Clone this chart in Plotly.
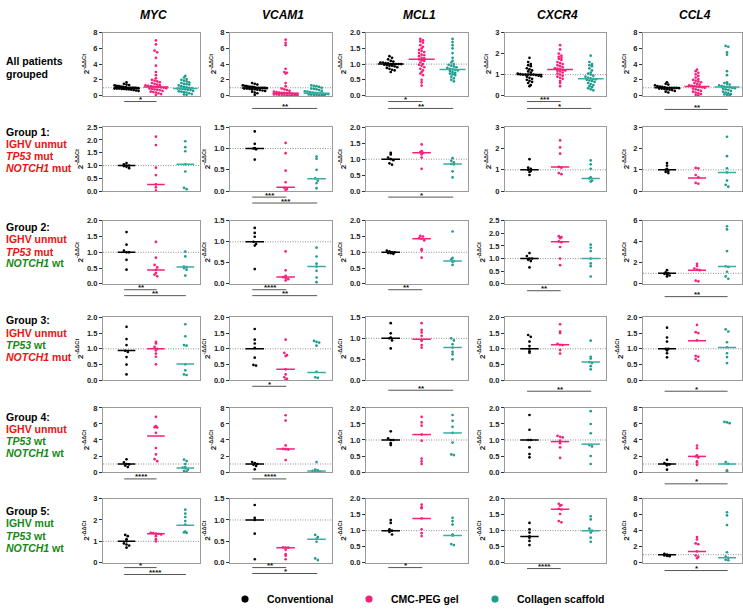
import numpy as np
import plotly.graph_objects as go

W, H = 743, 612

GENES = ["MYC", "VCAM1", "MCL1", "CXCR4", "CCL4"]
GROUPS = ["Conventional", "CMC-PEG gel", "Collagen scaffold"]
COLORS = ["#000000", "#F5217B", "#1E9C8C"]
MED_COLORS = ["#000000", "#F5217B", "#3AADA3"]

# ---------------- data: All patients grouped ----------------
ALL_MYC = dict(conv=[1.7, 1.5, 1.4, 1.35, 1.3, 1.25, 1.2, 1.2, 1.15, 1.1, 1.1, 1.05, 1.05, 1.0, 1.0, 1.0, 1.0, 1.0, 1.0, 0.98, 0.95, 0.95, 0.9, 0.9, 0.9, 0.85, 0.85, 0.8, 0.8, 0.75, 0.7, 0.65, 0.6],
               cmc=[7.0, 6.5, 5.7, 5.5, 4.8, 3.8, 3.0, 2.6, 2.2, 2.0, 1.9, 1.8, 1.7, 1.6, 1.5, 1.4, 1.35, 1.3, 1.25, 1.2, 1.15, 1.1, 1.1, 1.05, 1.0, 0.95, 0.9, 0.85, 0.8, 0.75, 0.7, 0.6, 0.5, 0.45, 0.4, 0.3, 0.2, 0.1],
               col=[2.5, 2.3, 2.1, 2.0, 1.9, 1.8, 1.7, 1.6, 1.5, 1.45, 1.4, 1.3, 1.2, 1.1, 1.05, 1.0, 0.95, 0.9, 0.9, 0.85, 0.8, 0.75, 0.7, 0.6, 0.55, 0.5, 0.45, 0.4, 0.3, 0.2, 0.15, 0.1],
               med=[1.0, 1.1, 0.9])
ALL_VCAM1 = dict(conv=[1.6, 1.5, 1.4, 1.3, 1.25, 1.2, 1.15, 1.1, 1.1, 1.05, 1.0, 1.0, 1.0, 1.0, 0.98, 0.95, 0.9, 0.9, 0.85, 0.8, 0.8, 0.75, 0.7, 0.65, 0.6, 0.5, 0.4, 0.3, 0.1],
                 cmc=[7.1, 6.7, 6.4, 3.4, 3.0, 2.9, 2.8, 1.6, 1.2, 0.9, 0.8, 0.7, 0.6, 0.5, 0.45, 0.4, 0.35, 0.35, 0.3, 0.3, 0.25, 0.2, 0.2, 0.15, 0.15, 0.1, 0.1, 0.08, 0.05, 0.05, 0.03, 0.02, 0.02],
                 col=[1.3, 1.25, 1.2, 1.1, 1.0, 0.9, 0.85, 0.8, 0.7, 0.6, 0.55, 0.5, 0.45, 0.4, 0.35, 0.3, 0.3, 0.25, 0.2, 0.2, 0.15, 0.12, 0.1, 0.08, 0.05, 0.03, 0.02],
                 med=[0.96, 0.3, 0.3])
ALL_MCL1 = dict(conv=[1.25, 1.2, 1.15, 1.1, 1.08, 1.05, 1.05, 1.03, 1.02, 1.0, 1.0, 1.0, 1.0, 1.0, 0.98, 0.97, 0.95, 0.95, 0.93, 0.9, 0.88, 0.85, 0.82, 0.8, 0.75],
                cmc=[1.8, 1.75, 1.72, 1.68, 1.6, 1.55, 1.5, 1.45, 1.42, 1.38, 1.35, 1.3, 1.28, 1.25, 1.2, 1.18, 1.15, 1.12, 1.1, 1.05, 1.0, 0.98, 0.95, 0.9, 0.85, 0.8, 0.75, 0.7, 0.65, 0.5, 0.42, 0.32],
                col=[1.8, 1.7, 1.6, 1.5, 1.35, 1.2, 1.1, 1.05, 1.0, 0.98, 0.95, 0.92, 0.9, 0.88, 0.85, 0.83, 0.82, 0.8, 0.78, 0.75, 0.72, 0.7, 0.68, 0.65, 0.6, 0.55, 0.5, 0.45],
                med=[1.0, 1.15, 0.83])
ALL_CXCR4 = dict(conv=[1.8, 1.6, 1.5, 1.45, 1.4, 1.3, 1.25, 1.2, 1.15, 1.1, 1.05, 1.02, 1.0, 1.0, 1.0, 1.0, 1.0, 0.98, 0.95, 0.92, 0.9, 0.85, 0.8, 0.75, 0.7, 0.65, 0.6, 0.5, 0.45],
                 cmc=[2.4, 2.2, 2.0, 1.9, 1.85, 1.8, 1.75, 1.7, 1.6, 1.55, 1.5, 1.45, 1.4, 1.35, 1.3, 1.28, 1.25, 1.22, 1.2, 1.18, 1.15, 1.1, 1.05, 1.0, 0.95, 0.9, 0.85, 0.8, 0.7, 0.6, 0.45],
                 col=[1.9, 1.6, 1.5, 1.45, 1.4, 1.3, 1.2, 1.1, 1.05, 1.0, 0.95, 0.9, 0.85, 0.82, 0.8, 0.78, 0.75, 0.72, 0.7, 0.65, 0.6, 0.55, 0.5, 0.45, 0.4, 0.35, 0.3, 0.25],
                 med=[1.0, 1.24, 0.8])
ALL_CCL4 = dict(conv=[1.7, 1.5, 1.4, 1.3, 1.2, 1.15, 1.1, 1.05, 1.0, 1.0, 1.0, 1.0, 0.98, 0.95, 0.9, 0.9, 0.85, 0.8, 0.75, 0.7, 0.6, 0.5, 0.4],
                cmc=[3.3, 3.1, 2.9, 2.7, 2.5, 2.3, 2.1, 2.0, 1.9, 1.8, 1.7, 1.6, 1.5, 1.4, 1.3, 1.25, 1.2, 1.15, 1.1, 1.05, 1.0, 0.9, 0.8, 0.7, 0.6, 0.5, 0.4, 0.3, 0.2, 0.1, 0.05],
                col=[6.3, 6.2, 5.5, 5.2, 3.1, 2.6, 1.7, 1.6, 1.5, 1.4, 1.3, 1.2, 1.15, 1.1, 1.05, 1.0, 0.95, 0.9, 0.8, 0.7, 0.6, 0.5, 0.4, 0.3, 0.2, 0.15, 0.1, 0.05],
                med=[1.0, 1.17, 1.1])

# ---------------- Group 1 ----------------
G1_MYC = dict(conv=[1.1, 1.05, 1.0, 1.0, 0.98, 0.95, 0.9], cmc=[2.13, 1.8, 0.92, 0.63, 0.27, 0.15, 0.02],
              col=[1.95, 1.72, 1.56, 1.05, 0.77, 0.13, 0.08], med=[1.0, 0.26, 1.05])
G1_VCAM1 = dict(conv=[1.4, 1.11, 1.01, 1.0, 0.98, 0.74], cmc=[1.13, 0.89, 0.48, 0.21, 0.08, 0.05, 0.03],
                col=[0.81, 0.76, 0.5, 0.3, 0.25, 0.19, 0.07], med=[1.0, 0.09, 0.29])
G1_MCL1 = dict(conv=[1.2, 1.15, 1.05, 1.0, 0.97, 0.87, 0.83], cmc=[1.46, 1.25, 1.22, 1.2, 1.15, 1.05, 0.7],
               col=[1.03, 0.95, 0.9, 0.85, 0.84, 0.62, 0.43], med=[1.0, 1.2, 0.85])
G1_CXCR4 = dict(conv=[1.5, 1.1, 1.05, 1.0, 0.95, 0.9, 0.76], cmc=[2.38, 2.05, 1.76, 1.14, 1.1, 0.85, 0.8],
                col=[1.44, 1.26, 1.05, 0.65, 0.6, 0.5, 0.45], med=[1.0, 1.13, 0.6])
G1_CCL4 = dict(conv=[1.32, 1.2, 1.05, 1.0, 0.95, 0.9, 0.85], cmc=[1.09, 1.07, 0.76, 0.65, 0.39, 0.35],
               col=[2.55, 1.64, 1.07, 0.88, 0.5, 0.3, 0.21], med=[1.0, 0.62, 0.88])

# ---------------- Group 2 ----------------
G2_MYC = dict(conv=[1.64, 1.24, 1.05, 1.0, 1.0, 0.76, 0.45], cmc=[1.33, 0.83, 0.6, 0.52, 0.44, 0.34, 0.29, 0.24],
              col=[1.02, 0.87, 0.55, 0.53, 0.5, 0.45, 0.26], med=[1.0, 0.44, 0.53])
G2_VCAM1 = dict(conv=[1.33, 1.21, 1.12, 1.0, 0.95, 0.91, 0.35], cmc=[0.77, 0.32, 0.19, 0.16, 0.14, 0.11, 0.08],
                col=[0.86, 0.65, 0.48, 0.41, 0.31, 0.15, 0.04], med=[1.0, 0.16, 0.41])
G2_MCL1 = dict(conv=[1.05, 1.03, 1.0, 1.0, 0.98, 0.97, 0.95], cmc=[1.52, 1.5, 1.45, 1.43, 1.38, 1.1, 1.05, 0.83],
               col=[1.66, 0.82, 0.78, 0.72, 0.7, 0.6], med=[1.0, 1.43, 0.72])
G2_CXCR4 = dict(conv=[1.22, 1.1, 1.0, 1.0, 0.95, 0.9, 0.65], cmc=[1.89, 1.85, 1.81, 1.68, 1.65, 1.46, 1.0, 0.74],
                col=[1.55, 1.43, 1.3, 1.0, 0.81, 0.7, 0.29], med=[1.0, 1.67, 1.0])
G2_CCL4 = dict(conv=[1.3, 1.1, 1.0, 0.95, 0.9, 0.79, 0.7], cmc=[1.9, 1.7, 1.45, 1.35, 1.3, 0.3, 0.24],
               col=[5.48, 5.18, 3.12, 1.67, 1.6, 1.15, 0.7, 0.48], med=[1.0, 1.3, 1.65])

# ---------------- Group 3 ----------------
G3_MYC = dict(conv=[1.7, 1.31, 1.12, 0.94, 0.9, 0.74, 0.5, 0.19], cmc=[1.22, 1.17, 1.06, 1.0, 0.95, 0.85, 0.75, 0.51],
              col=[1.78, 1.4, 1.12, 1.1, 0.51, 0.32, 0.19, 0.17], med=[0.95, 1.0, 0.52])
G3_VCAM1 = dict(conv=[1.63, 1.29, 1.17, 1.03, 0.72, 0.49, 0.47], cmc=[1.29, 0.87, 0.8, 0.77, 0.35, 0.19, 0.1, 0.05, 0.02],
                col=[1.25, 1.22, 1.2, 1.1, 0.27, 0.1, 0.08], med=[1.0, 0.35, 0.25])
G3_MCL1 = dict(conv=[1.36, 1.12, 1.02, 1.0, 0.95, 0.76], cmc=[1.36, 1.2, 1.14, 1.06, 0.96, 0.94, 0.84, 0.78],
               col=[1.0, 0.95, 0.86, 0.78, 0.68, 0.62, 0.5], med=[1.0, 0.98, 0.78])
G3_CXCR4 = dict(conv=[1.44, 1.38, 1.23, 1.09, 1.0, 0.92, 0.88], cmc=[1.78, 1.55, 1.5, 1.16, 1.13, 1.12, 0.96, 0.85],
                col=[1.26, 0.75, 0.69, 0.58, 0.55, 0.45, 0.35], med=[1.0, 1.13, 0.58])
G3_CCL4 = dict(conv=[1.67, 1.36, 1.23, 1.0, 1.0, 0.95, 0.86, 0.73], cmc=[1.76, 1.53, 1.5, 1.27, 0.78, 0.75, 0.68, 0.62],
               col=[1.62, 1.55, 1.21, 1.05, 0.86, 0.74, 0.55], med=[1.0, 1.26, 1.04])

# ---------------- Group 4 ----------------
G4_MYC = dict(conv=[1.58, 1.2, 1.0, 0.95, 0.8, 0.62], cmc=[6.9, 5.75, 5.6, 5.55, 4.9, 3.0, 2.2, 1.6, 1.35],
              col=[1.55, 1.37, 1.0, 0.62, 0.55, 0.46, 0.3, 0.12, 0.05], med=[1.0, 4.5, 0.5])
G4_VCAM1 = dict(conv=[1.24, 1.1, 1.0, 0.9, 0.75, 0.33], cmc=[7.09, 6.42, 3.32, 2.9, 2.85, 2.8, 1.49],
                col=[1.24, 0.3, 0.2, 0.15, 0.1, 0.05, 0.02], med=[1.0, 2.88, 0.12])
G4_MCL1 = dict(conv=[1.27, 1.05, 1.0, 1.0, 0.9, 0.84], cmc=[1.72, 1.55, 1.45, 1.17, 0.98, 0.42, 0.33, 0.25],
               col=[1.78, 1.6, 1.41, 1.22, 0.92, 0.55, 0.53], med=[1.0, 1.17, 1.22])
G4_CXCR4 = dict(conv=[1.78, 1.32, 1.0, 1.0, 0.77, 0.56, 0.46], cmc=[1.13, 1.1, 1.08, 0.98, 0.9, 0.77, 0.44],
                col=[1.9, 1.5, 1.21, 0.84, 0.8, 0.5, 0.25], med=[1.0, 0.95, 0.87])
G4_CCL4 = dict(conv=[1.53, 1.1, 1.0, 0.95, 0.85, 0.29], cmc=[3.3, 2.97, 2.07, 1.94, 1.8, 1.32, 1.2, 0.9],
               col=[6.26, 6.2, 6.1, 1.24, 1.03, 0.2, 0.1], med=[1.0, 1.95, 1.0])

# ---------------- Group 5 ----------------
G5_MYC = dict(conv=[1.3, 1.24, 1.1, 1.0, 0.9, 0.85, 0.8, 0.7], cmc=[1.4, 1.38, 1.36, 1.35, 1.32, 1.24, 1.1, 1.0],
              col=[2.48, 2.3, 2.14, 1.95, 1.78, 1.46, 1.42, 1.4], med=[1.0, 1.35, 1.75])
G5_VCAM1 = dict(conv=[1.35, 1.05, 1.0, 0.68, 0.08], cmc=[0.36, 0.35, 0.35, 0.3, 0.2, 0.16, 0.08],
                col=[0.65, 0.6, 0.56, 0.49, 0.1, 0.06], med=[1.0, 0.35, 0.55])
G5_MCL1 = dict(conv=[1.33, 1.24, 1.04, 1.0, 0.96, 0.88], cmc=[1.81, 1.73, 1.7, 1.38, 1.04, 0.92, 0.83],
               col=[1.4, 1.3, 1.19, 0.88, 0.85, 0.58, 0.55], med=[1.0, 1.38, 0.85])
G5_CXCR4 = dict(conv=[1.24, 1.04, 0.94, 0.82, 0.78, 0.68, 0.55], cmc=[1.84, 1.8, 1.78, 1.68, 1.66, 1.52, 1.3, 1.26],
                col=[1.45, 1.35, 1.06, 1.0, 0.94, 0.78, 0.65], med=[0.82, 1.67, 1.0])
G5_CCL4 = dict(conv=[1.1, 1.0, 0.95, 0.9, 0.85, 0.8], cmc=[3.2, 2.9, 2.4, 2.3, 1.4, 0.9, 0.75, 0.55],
               col=[6.3, 5.9, 4.7, 1.3, 0.75, 0.6, 0.35, 0.3], med=[1.0, 1.4, 0.6])

PANELS = [
    [ALL_MYC, ALL_VCAM1, ALL_MCL1, ALL_CXCR4, ALL_CCL4],
    [G1_MYC, G1_VCAM1, G1_MCL1, G1_CXCR4, G1_CCL4],
    [G2_MYC, G2_VCAM1, G2_MCL1, G2_CXCR4, G2_CCL4],
    [G3_MYC, G3_VCAM1, G3_MCL1, G3_CXCR4, G3_CCL4],
    [G4_MYC, G4_VCAM1, G4_MCL1, G4_CXCR4, G4_CCL4],
    [G5_MYC, G5_VCAM1, G5_MCL1, G5_CXCR4, G5_CCL4],
]

Y_MAX = [[8, 8, 2, 3, 8], [2.5, 1.5, 2, 3, 3], [2, 1.5, 2, 2.5, 6],
         [2, 2, 1.5, 2, 2], [8, 8, 2, 2, 8], [3, 1.5, 2, 2, 8]]
Y_STEP = [[2, 2, 0.5, 1, 2], [0.5, 0.5, 0.5, 1, 1], [0.5, 0.5, 0.5, 0.5, 2],
          [0.5, 0.5, 0.5, 0.5, 0.5], [2, 2, 0.5, 0.5, 2], [1, 0.5, 0.5, 0.5, 2]]

# significance: (row, col): [(group_a, group_b, stars, px below panel)]
SIG = {
    (0, 0): [(0, 1, "*", 6)],
    (0, 1): [(0, 2, "**", 13)],
    (0, 2): [(0, 1, "*", 6), (0, 2, "**", 13)],
    (0, 3): [(0, 1, "***", 6), (0, 2, "*", 13)],
    (0, 4): [(0, 2, "**", 14)],
    (1, 1): [(0, 1, "***", 6), (0, 2, "***", 12)],
    (1, 2): [(0, 2, "*", 6)],
    (2, 0): [(0, 1, "**", 6), (0, 2, "**", 12)],
    (2, 1): [(0, 1, "****", 6), (0, 2, "**", 12)],
    (2, 2): [(0, 1, "**", 6)],
    (2, 3): [(0, 1, "**", 7)],
    (2, 4): [(0, 2, "**", 13)],
    (3, 1): [(0, 1, "*", 6)],
    (3, 2): [(0, 2, "**", 10)],
    (3, 3): [(0, 2, "**", 11)],
    (3, 4): [(0, 2, "*", 11)],
    (4, 0): [(0, 1, "****", 7)],
    (4, 1): [(0, 1, "****", 7)],
    (4, 4): [(0, 2, "*", 12)],
    (5, 0): [(0, 1, "*", 5), (0, 2, "****", 12)],
    (5, 1): [(0, 1, "**", 5), (0, 2, "*", 11)],
    (5, 2): [(0, 1, "*", 5)],
    (5, 3): [(0, 1, "****", 6)],
    (5, 4): [(0, 2, "*", 8)],
}

RED, GREEN, BLACK = "#EE1111", "#148A14", "#000000"
ROW_LABELS = [
    [("All patients", BLACK), ("grouped", BLACK)],
    [("Group 1:", BLACK), ("IGHV unmut", RED), ("<i>TP53</i> mut", RED), ("<i>NOTCH1</i> mut", RED)],
    [("Group 2:", BLACK), ("IGHV unmut", RED), ("<i>TP53</i> mut", RED), ("<i>NOTCH1</i> wt", GREEN)],
    [("Group 3:", BLACK), ("IGHV unmut", RED), ("<i>TP53</i> wt", GREEN), ("<i>NOTCH1</i> mut", RED)],
    [("Group 4:", BLACK), ("IGHV unmut", RED), ("<i>TP53</i> wt", GREEN), ("<i>NOTCH1</i> wt", GREEN)],
    [("Group 5:", BLACK), ("IGHV mut", GREEN), ("<i>TP53</i> wt", GREEN), ("<i>NOTCH1</i> wt", GREEN)],
]

# ---------------- layout geometry (pixels) ----------------
COL_X = [(103, 200), (230, 332), (366, 468), (505, 606), (643, 742)]
ROW_Y = [(29, 93), (125, 190), (220, 284), (318, 382), (410, 475), (502, 567)]
LABEL_Y = [[58, 71], [130, 142.3, 154.5, 166.7], [226.7, 239, 251.2, 263.3],
           [321, 333.7, 346, 358.5], [419, 431.3, 443.7, 455.9], [515, 527, 539.5, 552]]
MED_HALF = [0.42, 0.3, 0.3, 0.3, 0.3, 0.3]
XR = (-0.8, 2.5)
FONT = "Arial, Liberation Sans, sans-serif"


def swarm_offsets(vals, ppu_y, ppu_x, bin_px=3.0, step_px=2.6, max_w=24.0):
    vals = np.asarray(vals, float)
    bins = np.round(vals * ppu_y / bin_px).astype(int)
    offs = np.zeros(len(vals))
    for b in np.unique(bins):
        idx = np.where(bins == b)[0]
        n = len(idx)
        st = min(step_px, max_w / max(n - 1, 1))
        for k, ii in enumerate(idx):
            offs[ii] = (k - (n - 1) / 2) * st / ppu_x
    return offs


fig = go.Figure()
shapes, annotations = [], []
layout_axes = {}

for r in range(6):
    for c in range(5):
        n = r * 5 + c + 1
        sfx = "" if n == 1 else str(n)
        x0p, x1p = COL_X[c]
        y0p, y1p = ROW_Y[r]
        hpx = y1p - y0p
        wpx = x1p - x0p
        ymax = Y_MAX[r][c]
        step = Y_STEP[r][c]
        ppu_y = hpx / ymax
        ppu_x = wpx / (XR[1] - XR[0])
        panel = PANELS[r][c]
        hw = MED_HALF[r]
        for g, key in enumerate(["conv", "cmc", "col"]):
            vals = panel[key]
            offs = swarm_offsets(vals, ppu_y, ppu_x)
            fig.add_trace(go.Scatter(
                x=g + offs, y=vals, mode="markers", xaxis="x" + sfx, yaxis="y" + sfx,
                marker=dict(size=2.7, color=COLORS[g]), cliponaxis=False, showlegend=False,
                hoverinfo="skip"))
            m = panel["med"][g]
            fig.add_trace(go.Scatter(
                x=[g - hw, g + hw], y=[m, m], mode="lines", xaxis="x" + sfx, yaxis="y" + sfx,
                line=dict(color=MED_COLORS[g], width=1.5), showlegend=False, hoverinfo="skip",
                cliponaxis=False))
        layout_axes["xaxis" + sfx] = dict(
            domain=[x0p / W, x1p / W], anchor="y" + sfx, range=list(XR),
            showticklabels=False, ticks="", showgrid=False, zeroline=False,
            showline=True, mirror=True, linecolor="#9a9a9a", linewidth=1.2, fixedrange=True)
        layout_axes["yaxis" + sfx] = dict(
            domain=[1 - y1p / H, 1 - y0p / H], anchor="x" + sfx, range=[0, ymax],
            tick0=0, dtick=step, tickformat=".1f" if step < 1 else "d",
            ticks="outside", ticklen=3, tickwidth=1, tickcolor="#333",
            tickfont=dict(family=FONT, size=7.5, color="#222", weight="bold"),
            showgrid=False, zeroline=False, showline=True, mirror=True,
            linecolor="#9a9a9a", linewidth=1.2,
            title=dict(text="<b>2<sup>-ΔΔCt</sup></b>", font=dict(family=FONT, size=8, color="#222"),
                       standoff=2),
            fixedrange=True)
        # dotted reference line at 1
        shapes.append(dict(type="line", xref=f"x{sfx} domain", yref="y" + sfx, x0=0, x1=1, y0=1, y1=1,
                           line=dict(color="#8f8f8f", width=1, dash="1px,1.5px"), layer="below"))
        # significance brackets
        for (a, b, stars, off) in SIG.get((r, c), []):
            yd = -off / hpx
            shapes.append(dict(type="line", xref="x" + sfx, yref=f"y{sfx} domain",
                               x0=a - 0.08, x1=b + 0.02, y0=yd, y1=yd,
                               line=dict(color="#555", width=1)))
            annotations.append(dict(x=(a + b) / 2, y=yd, xref="x" + sfx, yref=f"y{sfx} domain",
                                    text=f"<b>{stars}</b>", showarrow=False, yanchor="middle",
                                    yshift=2, font=dict(family=FONT, size=8, color="#111")))

# gene titles
for c, gname in enumerate(GENES):
    xc = (COL_X[c][0] + COL_X[c][1]) / 2 + 2
    annotations.append(dict(x=xc / W, y=1 - 11 / H, xref="paper", yref="paper",
                            text=f"<b><i>{gname}</i></b>", showarrow=False,
                            xanchor="center", yanchor="middle",
                            font=dict(family=FONT, size=12, color="#000")))

# row labels
for r, lines in enumerate(ROW_LABELS):
    for (txt, col), yp in zip(lines, LABEL_Y[r]):
        annotations.append(dict(x=4 / W, y=1 - yp / H, xref="paper", yref="paper",
                                text=f"<b>{txt}</b>", showarrow=False, xanchor="left",
                                yanchor="middle", font=dict(family=FONT, size=10.5, color=col)))

# legend
LEG_DOT_X = [245, 369, 495]
LEG_TXT_X = [265, 389, 515]
LEG_Y = 604
for g in range(3):
    shapes.append(dict(type="circle", xref="paper", yref="paper", xsizemode="pixel", ysizemode="pixel",
                       xanchor=LEG_DOT_X[g] / W, yanchor=1 - LEG_Y / H, x0=-3.6, x1=3.6, y0=-3.6, y1=3.6,
                       fillcolor=COLORS[g], line=dict(width=0)))
    annotations.append(dict(x=LEG_TXT_X[g] / W, y=1 - LEG_Y / H, xref="paper", yref="paper",
                            text=f"<b>{GROUPS[g]}</b>", showarrow=False, xanchor="left", yanchor="middle",
                            font=dict(family=FONT, size=10.5, color="#000")))

fig.update_layout(width=W, height=H, margin=dict(l=0, r=0, t=0, b=0), autosize=False,
                  paper_bgcolor="white", plot_bgcolor="white", showlegend=False,
                  shapes=shapes, annotations=annotations, **layout_axes)

fig.write_html("out.html", config={"displayModeBar": False},
               post_script="document.body.style.margin='0';document.body.style.padding='0';"
                           "document.body.style.overflow='hidden';")
